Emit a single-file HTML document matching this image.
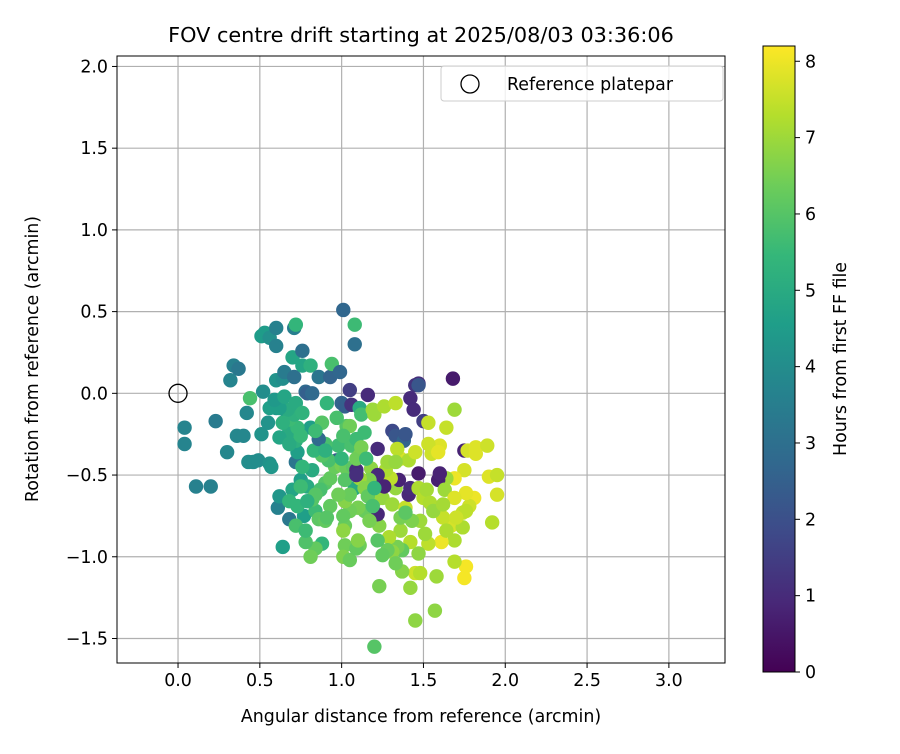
<!DOCTYPE html>
<html><head><meta charset="utf-8"><style>
body{margin:0;background:#fff;font-family:"DejaVu Sans","Liberation Sans",sans-serif;}
</style></head><body>
<svg id="chart" width="900" height="750" xmlns="http://www.w3.org/2000/svg" font-family="DejaVu Sans, Liberation Sans, sans-serif">
<defs><linearGradient id="vir" x1="0" y1="1" x2="0" y2="0"></linearGradient></defs>
<text x="421" y="42" font-size="20.8" text-anchor="middle">FOV centre drift starting at 2025/08/03 03:36:06</text>
<g id="grid"></g><g id="pts"></g>
<rect x="117" y="56" width="608" height="607" fill="none" stroke="#000" stroke-width="1"/>
<g id="ticks"></g>
<text x="421" y="722" font-size="17.4" text-anchor="middle">Angular distance from reference (arcmin)</text>
<text transform="translate(38,359) rotate(-90)" font-size="17.4" text-anchor="middle">Rotation from reference (arcmin)</text>
<g>
<rect x="441" y="66" width="282" height="35" rx="3" fill="#fff" fill-opacity="0.8" stroke="#ccc"/>
<circle cx="470" cy="84" r="9" fill="none" stroke="#000" stroke-width="1.3"/>
<text x="507" y="90" font-size="17.4">Reference platepar</text>
</g>
<rect x="763" y="46" width="32" height="626" fill="url(#vir)" stroke="#000"/>
<g id="cbticks"></g>
<text transform="translate(846,359) rotate(-90)" font-size="17.4" text-anchor="middle">Hours from first FF file</text>
</svg>
<script>
const xTicks=[0,0.5,1,1.5,2,2.5,3];
const yTicks=[-1.5,-1,-0.5,0,0.5,1,1.5,2];
const cTicks=[0,1,2,3,4,5,6,7,8];
const refPoint=[0,0];
const xs=[0.04,0.04,0.11,0.20,0.23,0.30,0.32,0.34,0.37,0.36,0.40,0.42,0.44,0.43,0.46,0.49,0.51,0.53,0.51,0.52,0.55,0.56,0.56,0.57,0.60,0.60,0.60,0.60,0.61,0.62,0.64,0.64,0.65,0.67,0.70,0.71,0.72,0.68,0.70,0.71,0.72,0.73,0.75,0.76,0.76,0.78,0.79,0.77,0.79,0.82,0.82,0.81,0.81,0.84,0.86,0.87,0.88,0.91,0.93,0.94,0.97,0.98,0.99,1.00,1.01,1.02,1.03,1.05,1.06,1.06,1.08,1.08,1.08,1.09,1.11,1.12,1.16,1.19,1.20,1.22,1.26,1.23,1.20,1.31,1.33,1.33,1.38,1.39,1.42,1.44,1.45,1.47,1.47,1.50,1.64,1.69,1.68,1.60,1.53,1.55,1.59,1.75,1.77,1.82,1.89,1.90,1.95,1.95,1.92,1.81,1.78,1.76,1.75,1.69,1.64,1.59,1.60,1.63,1.69,1.74,1.76,1.67,1.62,1.69,1.74,1.76,1.75,1.69,1.61,1.57,1.45,1.42,1.45,1.37,1.48,1.58,1.53,1.47,1.42,1.36,1.37,1.34,1.31,1.29,1.28,1.23,1.20,1.25,1.31,1.39,1.41,1.42,1.47,1.50,1.52,1.54,1.56,1.48,1.43,1.36,1.51,1.33,1.35,1.30,1.27,1.28,1.36,1.41,1.34,1.45,1.47,1.33,1.18,1.22,1.26,1.17,1.11,1.14,1.16,1.18,1.22,1.14,1.10,1.17,1.05,1.02,1.05,1.02,1.01,1.02,1.01,1.05,1.11,1.09,1.10,1.01,0.98,0.93,0.90,0.93,0.96,1.00,1.03,1.07,1.02,1.09,1.09,1.11,1.09,1.12,0.92,0.90,0.88,0.87,0.84,0.82,0.86,0.90,0.91,0.84,0.81,0.78,0.72,0.78,0.73,0.68,0.79,0.75,0.76,0.72,0.68,0.73,0.68,0.71,0.67,0.64,0.62,0.68,0.62,0.56,0.59,0.65,0.72,0.76,0.75,0.83,0.86,0.88,0.84,0.97,1.05,1.01,1.00,0.90,1.14,1.15,1.20,1.19,1.22,1.25,1.33,1.39,1.62,1.64,1.70,1.53,1.82];
const ys=[-0.21,-0.31,-0.57,-0.57,-0.17,-0.36,0.08,0.17,0.15,-0.26,-0.26,-0.12,-0.03,-0.42,-0.42,-0.41,-0.25,0.37,0.35,0.01,-0.18,0.34,-0.43,-0.45,0.40,0.29,0.08,-0.09,-0.70,-0.63,-0.94,0.09,0.13,-0.13,0.22,0.40,0.42,-0.77,-0.59,0.10,-0.42,-0.36,-0.53,0.26,0.17,0.01,0.00,-0.75,-0.57,-0.47,0.00,0.17,-0.21,-0.72,0.10,-0.33,-0.92,-0.06,0.10,0.18,-0.41,-0.32,0.13,-0.06,0.51,-0.08,-0.20,0.02,-0.32,-0.07,0.42,0.30,-0.58,-0.28,-0.09,-0.13,-0.01,-0.10,-0.13,-0.34,-0.08,-1.18,-1.55,-0.23,-0.26,-0.06,-0.29,-0.25,-0.03,-0.10,0.05,0.06,0.05,-0.17,-0.21,-0.10,0.09,-0.32,-0.31,-0.37,-0.36,-0.35,-0.35,-0.33,-0.32,-0.51,-0.50,-0.62,-0.79,-0.64,-0.69,-0.61,-0.47,-0.52,-0.52,-0.53,-0.49,-0.59,-0.64,-0.73,-0.72,-0.81,-0.76,-0.90,-0.82,-1.06,-1.13,-1.03,-0.91,-1.33,-1.39,-1.19,-1.10,-1.09,-1.10,-1.12,-0.92,-0.98,-0.91,-0.84,-0.96,-0.94,-0.97,-0.88,-0.96,-0.81,-0.66,-0.64,-0.68,-0.70,-0.62,-0.58,-0.58,-0.64,-0.59,-0.67,-0.72,-0.78,-0.78,-0.76,-0.86,-0.58,-0.53,-0.52,-0.47,-0.42,-0.40,-0.41,-0.34,-0.36,-0.49,-0.42,-0.46,-0.50,-0.57,-0.53,-0.52,-0.58,-0.63,-0.73,-0.74,-0.72,-0.70,-0.78,-0.72,-0.66,-0.62,-0.81,-0.84,-0.93,-1.00,-1.02,-0.93,-0.95,-0.90,-0.75,-0.62,-0.69,-0.55,-0.52,-0.45,-0.44,-0.46,-0.45,-0.53,-0.47,-0.50,-0.38,-0.40,-0.33,-0.41,-0.31,-0.38,-0.59,-0.62,-0.65,-0.77,-0.78,-0.76,-0.95,-1.00,-0.91,-0.81,-0.84,-0.69,-0.66,-0.66,-0.57,-0.45,-0.29,-0.23,-0.21,-0.16,-0.13,-0.10,-0.18,-0.27,-0.31,-0.09,-0.09,-0.04,-0.02,-0.06,-0.12,-0.26,-0.35,-0.28,-0.18,-0.23,-0.15,-0.20,-0.26,-0.40,-0.35,-0.24,-0.40,-0.58,-0.69,-0.90,-0.99,-1.04,-0.73,-0.68,-0.84,-0.76,-0.18,-0.37];
const hours=[3.7,3.7,3.6,3.6,3.4,3.8,3.7,3.6,3.3,3.8,3.8,3.8,5.8,4.0,4.0,4.0,4.2,4.5,4.5,4.0,4.2,4.1,4.2,4.3,3.6,3.6,4.2,4.4,3.6,4.3,4.6,4.0,3.4,4.5,4.8,3.5,5.4,3.3,4.8,3.0,3.2,4.6,4.6,3.0,4.8,2.8,2.5,4.6,5.0,5.0,2.8,5.2,4.6,5.6,3.2,5.5,5.4,5.4,2.6,5.8,2.4,5.6,2.7,2.6,2.7,2.5,6.0,1.5,5.8,1.2,5.6,3.0,5.0,5.6,5.0,5.7,1.0,7.0,7.0,1.0,7.2,6.5,6.0,1.8,2.2,7.4,2.6,2.2,1.0,1.0,1.2,1.1,2.2,1.5,7.5,7.0,0.6,7.8,7.6,7.6,7.9,0.8,7.7,7.8,7.6,7.8,7.5,7.7,7.3,8.0,7.6,7.9,7.7,8.0,7.0,0.7,0.8,7.0,7.8,7.5,7.4,7.7,7.5,7.2,7.2,8.1,8.1,7.3,8.0,6.8,6.8,6.9,7.6,6.7,7.3,7.0,7.4,6.8,7.3,7.0,6.2,6.5,6.8,7.2,6.3,6.7,7.0,6.9,7.0,7.5,0.9,1.0,7.2,7.3,7.1,7.2,6.9,7.0,6.6,6.5,7.0,6.9,0.8,7.4,7.2,7.0,7.7,7.2,7.4,7.6,0.6,6.9,6.8,1.0,0.8,6.6,7.0,6.7,6.2,0.8,0.9,6.3,6.5,6.5,6.4,6.7,6.3,6.3,6.8,6.4,6.6,6.3,6.4,6.2,6.7,6.2,6.4,6.2,6.0,6.2,6.3,6.5,6.3,6.1,6.0,1.0,1.1,6.6,6.4,6.5,5.8,5.8,6.0,5.8,6.0,6.0,6.1,6.2,6.0,6.2,6.4,5.9,5.8,5.6,5.4,5.4,5.2,5.6,5.4,5.2,5.0,5.5,5.6,5.2,5.0,5.2,4.8,5.0,4.6,4.6,4.4,4.8,5.0,5.3,5.5,5.4,2.8,6.0,5.6,5.8,6.4,5.8,5.4,5.2,5.6,5.6,5.4,5.8,6.0,6.2,6.4,6.1,7.1,7.2,7.6,7.5,7.8];
const L=117,R=725,T=56,B=663,XMIN=-0.373,XMAX=3.343,YMIN=-1.65,YMAX=2.064,CMAX=8.2,CT=46,CB=672;
const sx=v=>L+(v-XMIN)/(XMAX-XMIN)*(R-L);
const sy=v=>B-(v-YMIN)/(YMAX-YMIN)*(B-T);
const sc=v=>CB-v/CMAX*(CB-CT);
const VIR=[[68,1,84],[72,40,120],[62,74,137],[49,104,142],[38,130,142],[31,158,137],[53,183,121],[109,205,89],[180,222,44],[253,231,37]];
function vir(t){t=Math.max(0,Math.min(1,t))*(VIR.length-1);const i=Math.min(Math.floor(t),VIR.length-2),f=t-i;const c=VIR[i].map((a,k)=>Math.round(a+(VIR[i+1][k]-a)*f));return `rgb(${c})`;}
const NS="http://www.w3.org/2000/svg";
function mk(tag,attrs,parent){const e=document.createElementNS(NS,tag);for(const k in attrs)e.setAttribute(k,attrs[k]);parent.appendChild(e);return e;}
const grad=document.getElementById('vir');
VIR.forEach((c,i)=>mk('stop',{offset:(i/(VIR.length-1)*100)+'%','stop-color':`rgb(${c})`},grad));
const grid=document.getElementById('grid'),ticks=document.getElementById('ticks');
xTicks.forEach(v=>{const x=sx(v);
const g=mk('line',{x1:x,x2:x,y1:T,y2:B,stroke:'#b0b0b0','stroke-width':1.2},grid);


mk('line',{x1:x,x2:x,y1:B,y2:B+5,stroke:'#000'},ticks);
const t=mk('text',{x:x,y:B+23,'font-size':17.4,'text-anchor':'middle'},ticks);t.textContent=v.toFixed(1);

});
yTicks.forEach(v=>{const y=sy(v);
const g=mk('line',{x1:L,x2:R,y1:y,y2:y,stroke:'#b0b0b0','stroke-width':1.2},grid);


mk('line',{x1:L-5,x2:L,y1:y,y2:y,stroke:'#000'},ticks);
const t=mk('text',{x:L-9,y:y+6,'font-size':17.4,'text-anchor':'end'},ticks);t.textContent=(v<0?'\u2212':'')+Math.abs(v).toFixed(1);

});
const cb=document.getElementById('cbticks');
cTicks.forEach(v=>{const y=sc(v);
mk('line',{x1:795,x2:800,y1:y,y2:y,stroke:'#000'},cb);
const t=mk('text',{x:805,y:y+6,'font-size':17.4},cb);t.textContent=v;

});
const pts=document.getElementById('pts');
for(let i=0;i<xs.length;i++){
const c=mk('circle',{cx:sx(xs[i]),cy:sy(ys[i]),r:7.2,fill:vir(hours[i]/CMAX)},pts);

}
const ref=mk('circle',{cx:sx(refPoint[0]),cy:sy(refPoint[1]),r:9,fill:'none',stroke:'#000','stroke-width':1.3},pts);


</script>
</body></html>
